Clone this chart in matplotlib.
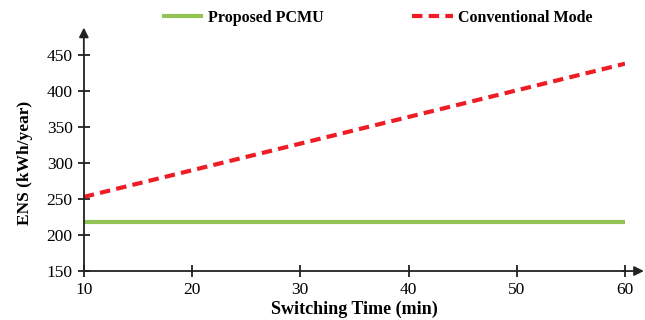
import matplotlib.pyplot as plt

# data
switching_time = [10, 20, 30, 40, 50, 60]
ens_pcmu = [218, 218, 218, 218, 218, 218]
ens_conventional = [253, 290, 327, 364, 401, 438]

plt.rcParams['font.family'] = ['Liberation Serif', 'DejaVu Serif']

fig = plt.figure(figsize=(6.45, 3.2), dpi=100)
ax = fig.add_axes([0.130, 0.153, 0.839, 0.675])

l1, = ax.plot(switching_time, ens_pcmu, color='#92c353', lw=3, solid_capstyle='butt',
              label='Proposed PCMU')
l2, = ax.plot(switching_time, ens_conventional, color='#ee1c25', lw=3, ls=(0, (2.5, 1.5)),
              label='Conventional Mode')

ax.set_xlim(10, 60)
ax.set_ylim(150, 450)
ax.set_xticks(switching_time)
ax.set_yticks(range(150, 451, 50))
for s in ['top', 'right']:
    ax.spines[s].set_visible(False)
for s in ['left', 'bottom']:
    ax.spines[s].set_linewidth(1.3)
    ax.spines[s].set_color('#222222')
ax.tick_params(direction='inout', length=8, width=1.3, color='#222222',
               labelsize=12.5, pad=4)

# axis arrows
ax.annotate('', xy=(1.04, 0), xytext=(0.99, 0), xycoords='axes fraction',
            arrowprops=dict(arrowstyle='-|>', color='#222222', lw=1.3, mutation_scale=14))
ax.annotate('', xy=(0, 1.14), xytext=(0, 0.99), xycoords='axes fraction',
            arrowprops=dict(arrowstyle='-|>', color='#222222', lw=1.3, mutation_scale=14))

ax.set_xlabel('Switching Time (min)', fontsize=13, fontweight='bold', labelpad=2)
ax.set_ylabel('ENS (kWh/year)', fontsize=12.5, fontweight='bold', labelpad=10)

fig.legend(handles=[l1, l2], loc='center', bbox_to_anchor=(0.585, 0.945), ncol=2,
           frameon=False, prop={'weight': 'bold', 'size': 11.5}, handlelength=2.6,
           columnspacing=5.5, handletextpad=0.3)

fig.savefig('out.png', dpi=100)
